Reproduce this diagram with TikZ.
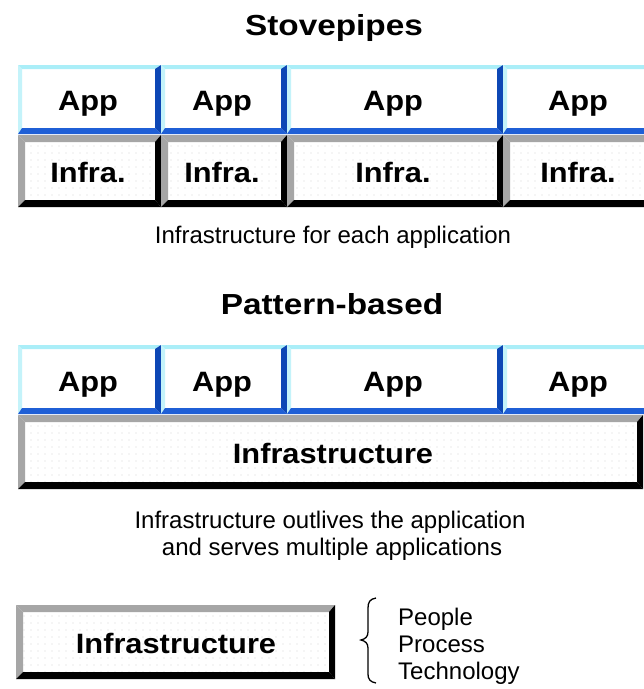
\documentclass[tikz,border=0pt]{standalone}
\usepackage{fontspec}
\setmainfont{Liberation Sans}
\newfontfamily\widebold{Liberation Sans Bold}[FakeStretch=1.1]
\newfontfamily\titlebold{Liberation Sans Bold}[FakeStretch=1.15]
\definecolor{cyanL}{HTML}{AAEEF8}
\definecolor{blueM}{HTML}{1F5FD6}
\definecolor{blueD}{HTML}{0D47B5}
\definecolor{grayB}{HTML}{A6A6A6}
\definecolor{dotC}{HTML}{D4D4D4}
\tikzset{
  boxlabel/.style={font=\widebold\fontsize{28}{32}\selectfont, anchor=base, inner sep=0pt},
  titlelabel/.style={font=\titlebold\fontsize{29}{33}\selectfont, anchor=base, inner sep=0pt},
  caption/.style={font=\fontsize{24}{27}\selectfont, anchor=base, inner sep=0pt},
}
% App box: x1 y1 x2 y2
\newcommand{\AppBox}[4]{%
  \fill[white] (#1,#2) rectangle (#3,#4);
  \fill[cyanL] (#1,#2) -- (#3,#2) -- (#3-6,#2+4) -- (#1+4,#2+4) -- cycle;
  \fill[cyanL!70!white] (#1,#2) -- (#1+4,#2+4) -- (#1+4,#4-6) -- (#1,#4) -- cycle;
  \fill[blueD] (#3,#2) -- (#3,#4) -- (#3-6,#4-6) -- (#3-6,#2+4) -- cycle;
  \fill[blueM] (#1,#4) -- (#3,#4) -- (#3-6,#4-6) -- (#1+4,#4-6) -- cycle;
}
% Infra box: x1 y1 x2 y2
\newcommand{\InfraBox}[4]{%
  \fill[grayB] (#1,#2) -- (#3,#2) -- (#3-6,#2+7) -- (#1+7,#2+7) -- cycle;
  \fill[grayB] (#1,#2) -- (#1+7,#2+7) -- (#1+7,#4-7) -- (#1,#4) -- cycle;
  \fill[black] (#3,#2) -- (#3,#4) -- (#3-6,#4-7) -- (#3-6,#2+7) -- cycle;
  \fill[black] (#1,#4) -- (#3,#4) -- (#3-6,#4-7) -- (#1+7,#4-7) -- cycle;
}
\begin{document}
\begin{tikzpicture}[x=1pt,y=-1pt]
\useasboundingbox (0,0) rectangle (644,689);
\fill[white] (0,0) rectangle (644,689);
\begin{scope}
\clip (0,0) rectangle (644,689);
% dotted interiors of infrastructure boxes
\begin{scope}
\clip (25,142) rectangle (155,200)
      (168,142) rectangle (281,200)
      (294,142) rectangle (497,200)
      (510,142) rectangle (652,200)
      (25,422) rectangle (636,482)
      (23,612) rectangle (329,672);
\foreach \y in {146,153,...,200} {\foreach \x in {3,10,...,644} {\fill[dotC] (\x,\y) circle (0.7);}}
\foreach \y in {426,433,...,482} {\foreach \x in {3,10,...,644} {\fill[dotC] (\x,\y) circle (0.7);}}
\foreach \y in {616,623,...,672} {\foreach \x in {3,10,...,336} {\fill[dotC] (\x,\y) circle (0.7);}}
\end{scope}
% ---------- Stovepipes ----------
\AppBox{18}{65}{161}{134}
\AppBox{161}{65}{287}{134}
\AppBox{287}{65}{503}{134}
\AppBox{503}{65}{660}{134}
\InfraBox{18}{135}{161}{207}
\InfraBox{161}{135}{287}{207}
\InfraBox{287}{135}{503}{207}
\InfraBox{503}{135}{660}{207}
% ---------- Pattern-based ----------
\AppBox{18}{345}{161}{414}
\AppBox{161}{345}{287}{414}
\AppBox{287}{345}{503}{414}
\AppBox{503}{345}{660}{414}
\InfraBox{18}{415}{643}{489}
% ---------- bottom ----------
\InfraBox{16}{605}{335}{679}
\end{scope}
% titles
\node[titlelabel] (t1) at (334,35) {Stovepipes};
\node[titlelabel] (t2) at (332,314) {Pattern-based};
% row 1 labels
\node[boxlabel] (a1) at (88,110) {App};
\node[boxlabel] (a2) at (222,110) {App};
\node[boxlabel] (a3) at (393,110) {App};
\node[boxlabel] (a4) at (578,110) {App};
\node[boxlabel] (i1) at (88,182) {Infra.};
\node[boxlabel] (i2) at (222,182) {Infra.};
\node[boxlabel] (i3) at (393,182) {Infra.};
\node[boxlabel] (i4) at (578,182) {Infra.};
\node[caption] (c1) at (333,243) {Infrastructure for each application};
% row 2 labels
\node[boxlabel] (b1) at (88,391) {App};
\node[boxlabel] (b2) at (222,391) {App};
\node[boxlabel] (b3) at (393,391) {App};
\node[boxlabel] (b4) at (578,391) {App};
\node[boxlabel] (inf) at (333,463) {Infrastructure};
\node[caption] (c2) at (330,528) {Infrastructure outlives the application};
\node[caption] (c3) at (332,555) {and serves multiple applications};
% bottom
\node[boxlabel] (inf2) at (176,653) {Infrastructure};
\draw[line width=1.3pt] (376,598) .. controls (370,599) and (368,602) .. (368,608) -- (368,632)
  .. controls (368,637) and (365,639) .. (361,640) .. controls (365,641) and (368,643) .. (368,648)
  -- (368,674) .. controls (368,679) and (370,682) .. (376,683);
\node[caption, anchor=base west] (p1) at (398,625) {People};
\node[caption, anchor=base west] (p2) at (398,652) {Process};
\node[caption, anchor=base west] (p3) at (398,679) {Technology};
\end{tikzpicture}
\end{document}
